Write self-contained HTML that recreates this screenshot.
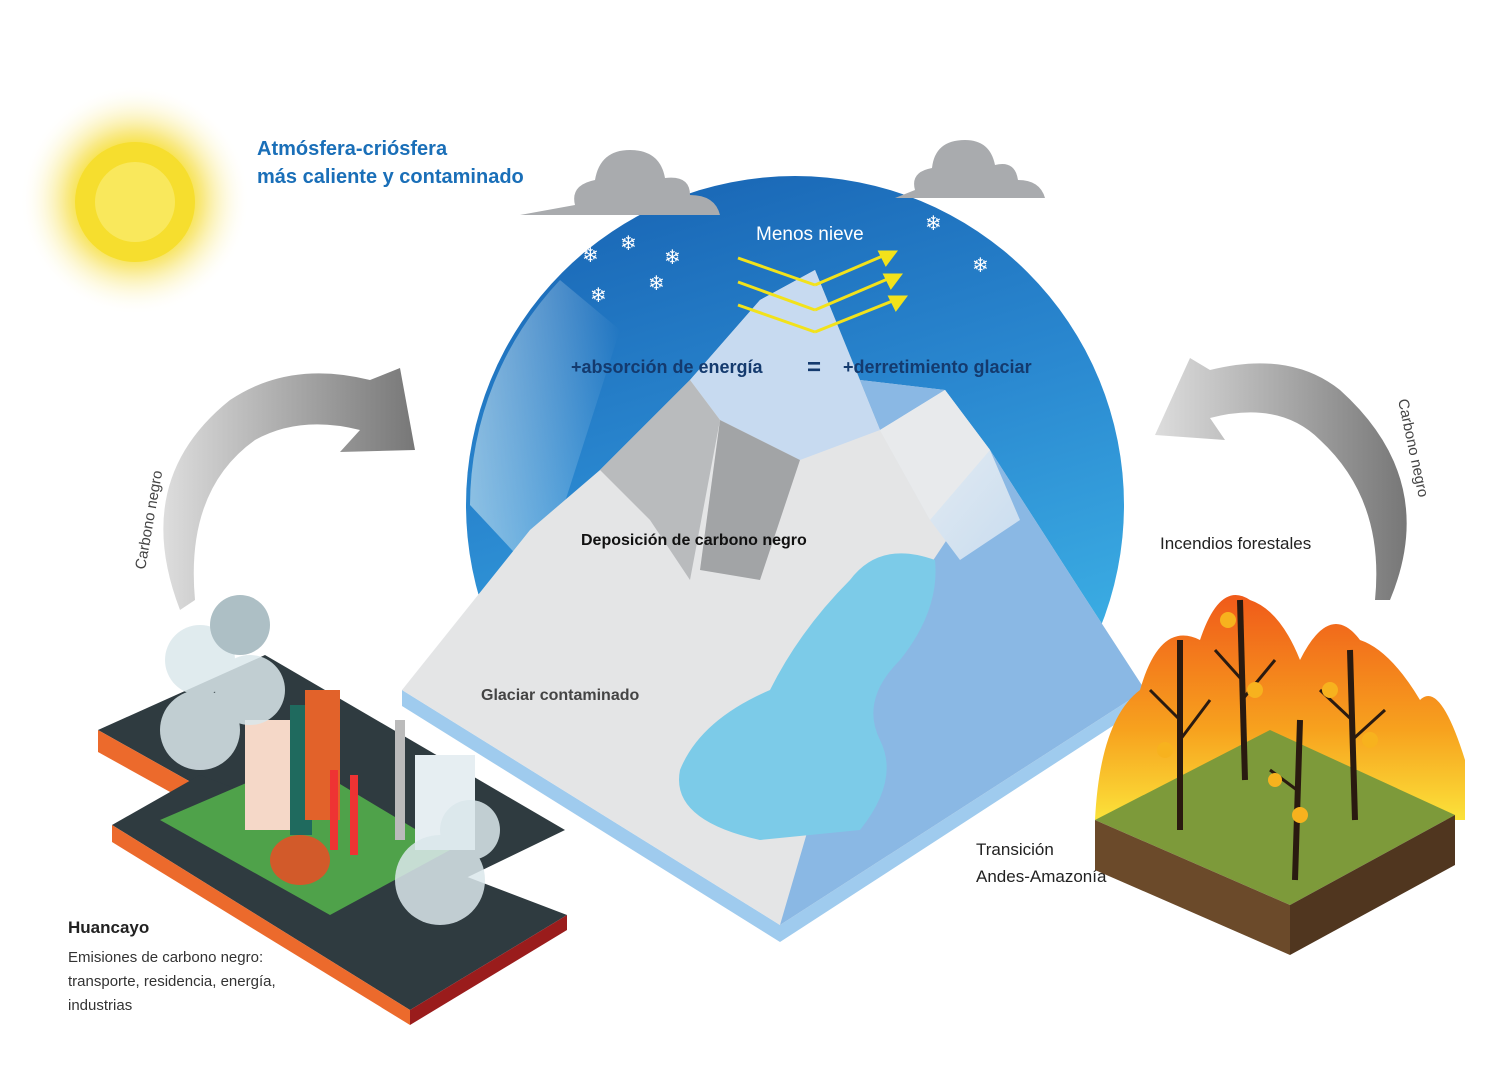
<!DOCTYPE html>
<html><head><meta charset="utf-8"><style>
html,body{margin:0;padding:0;background:#fff}
svg{display:block}
text{font-family:"Liberation Sans",sans-serif}
</style></head><body>
<svg width="1505" height="1088" viewBox="0 0 1505 1088" xmlns="http://www.w3.org/2000/svg">
<defs>
<radialGradient id="sun" cx="0.5" cy="0.5" r="0.5">
<stop offset="0" stop-color="#fffbe0"/><stop offset="0.45" stop-color="#f7e03a"/><stop offset="0.6" stop-color="#f9ea8a"/><stop offset="1" stop-color="#fff" stop-opacity="0"/>
</radialGradient>
<linearGradient id="sky" x1="0" y1="0" x2="0.3" y2="1">
<stop offset="0" stop-color="#1660b0"/><stop offset="0.5" stop-color="#2a88d0"/><stop offset="1" stop-color="#3fb6e8"/>
</linearGradient>
<linearGradient id="glow" x1="0" y1="0" x2="1" y2="0">
<stop offset="0" stop-color="#ddf0f5" stop-opacity="0.55"/><stop offset="1" stop-color="#fff" stop-opacity="0"/>
</linearGradient>
<linearGradient id="arr" x1="0" y1="0" x2="1" y2="0">
<stop offset="0" stop-color="#ddd"/><stop offset="1" stop-color="#777"/>
</linearGradient>
<linearGradient id="fire" x1="0" y1="0" x2="0" y2="1">
<stop offset="0" stop-color="#f05a1a"/><stop offset="0.6" stop-color="#f7a21e"/><stop offset="1" stop-color="#fbe23a"/>
</linearGradient>
<linearGradient id="snowR" x1="0" y1="0" x2="1" y2="1">
<stop offset="0" stop-color="#f0f2f4"/><stop offset="1" stop-color="#c8dcef"/>
</linearGradient>
</defs>
<rect width="1505" height="1088" fill="#fff"/>
<circle cx="135" cy="200" r="115" fill="url(#sun)"/>
<circle cx="135" cy="202" r="60" fill="#f6de2e"/>
<circle cx="135" cy="202" r="40" fill="#fbec70" opacity="0.7"/>
<text x="257" y="155" font-size="20" font-weight="bold" fill="#1a6fb8">Atmósfera-criósfera</text>
<text x="257" y="183" font-size="20" font-weight="bold" fill="#1a6fb8">más caliente y contaminado</text>
<circle cx="795" cy="505" r="329" fill="url(#sky)"/>
<path d="M470 505 A329 329 0 0 1 560 280 L620 330 L540 580 Z" fill="url(#glow)"/>
<path d="M520 215 L720 215 Q715 195 690 195 Q690 175 665 178 Q660 150 630 150 Q600 150 595 180 Q570 185 575 205 Z" fill="#a9abae"/>
<path d="M895 198 L1045 198 Q1040 180 1018 180 Q1015 160 995 165 Q990 140 965 140 Q935 140 932 168 Q910 172 915 190 Z" fill="#a9abae"/>
<polygon points="402,690 780,925 1145,690 1145,705 780,942 402,706" fill="#9fcbee"/>
<polygon points="402,690 530,530 600,470 690,380 760,300 815,270 860,380 945,390 990,450 1080,590 1145,690 780,925" fill="#e4e5e6"/>
<polygon points="815,270 860,380 945,390 990,450 1080,590 1145,690 780,925 840,720 900,610 960,520 880,430" fill="#8ab8e4"/>
<polygon points="945,390 990,450 1020,520 960,560 930,520 880,430" fill="url(#snowR)"/>
<polygon points="690,380 760,300 815,270 880,430 800,460 720,420" fill="#c7daf0"/>
<polygon points="600,470 690,380 720,420 690,580 650,520" fill="#b9bbbd"/>
<polygon points="720,420 800,460 760,580 700,570" fill="#a2a4a6"/>
<polygon points="880,430 945,390 990,450 930,520" fill="#e8eaec"/>
<path d="M935 560 Q880 540 850 580 Q800 630 770 690 Q700 720 680 770 Q670 820 760 840 L860 830 Q900 780 880 740 Q860 700 900 660 Q940 610 935 560 Z" fill="#7ccbe8"/>
<g stroke="#f2e21b" stroke-width="3" fill="#f2e21b">
<line x1="738" y1="258" x2="815" y2="285"/><line x1="815" y1="285" x2="885" y2="255"/>
<line x1="738" y1="282" x2="815" y2="310"/><line x1="815" y1="310" x2="890" y2="278"/>
<line x1="738" y1="305" x2="815" y2="332"/><line x1="815" y1="332" x2="895" y2="300"/>
<polygon points="895,252 880,252 886,264"/><polygon points="900,275 885,275 891,287"/><polygon points="905,297 890,297 896,309"/>
</g>
<g fill="#fff" font-size="20"><text x="582" y="262">❄</text><text x="620" y="250">❄</text><text x="664" y="264">❄</text><text x="590" y="302">❄</text><text x="648" y="290">❄</text><text x="925" y="230">❄</text><text x="972" y="272">❄</text></g>
<text x="756" y="240" font-size="19" fill="#fff">Menos nieve</text>
<text x="571" y="373" font-size="18" font-weight="bold" fill="#143a6e">+absorción de energía</text>
<text x="807" y="375" font-size="24" font-weight="bold" fill="#143a6e">=</text>
<text x="843" y="373" font-size="18" font-weight="bold" fill="#143a6e">+derretimiento glaciar</text>
<text x="581" y="545" font-size="16" font-weight="bold" fill="#111">Deposición de carbono negro</text>
<text x="481" y="700" font-size="16" font-weight="bold" fill="#444">Glaciar contaminado</text>
<path d="M180 610 Q130 480 230 400 Q290 360 370 380 L400 368 L415 450 L340 452 L360 430 Q300 415 255 440 Q185 490 195 600 Z" fill="url(#arr)"/>
<text transform="translate(145,570) rotate(-80)" font-size="15" fill="#444">Carbono negro</text>
<path d="M1390 600 Q1440 480 1340 390 Q1290 350 1210 370 L1190 358 L1155 435 L1225 440 L1210 418 Q1280 400 1320 440 Q1385 500 1375 600 Z" fill="url(#arr)"/>
<text transform="translate(1398,400) rotate(78)" font-size="15" fill="#444">Carbono negro</text>
<text x="1160" y="549" font-size="17" fill="#222">Incendios forestales</text>
<text x="976" y="855" font-size="17" fill="#222">Transición</text>
<text x="976" y="882" font-size="17" fill="#222">Andes-Amazonía</text>
<path d="M1095 820 Q1100 720 1140 690 Q1160 620 1200 640 Q1220 580 1250 600 Q1280 610 1300 660 Q1330 600 1360 640 Q1390 650 1420 700 Q1440 680 1465 760 L1465 820 Z" fill="url(#fire)"/>
<polygon points="1095,820 1270,730 1455,815 1290,905" fill="#7d9a3a"/>
<polygon points="1095,820 1290,905 1290,955 1095,870" fill="#6b4a2a"/>
<polygon points="1290,905 1455,815 1455,865 1290,955" fill="#50361f"/>
<g stroke="#2a1a10" stroke-width="6" fill="none">
<line x1="1180" y1="830" x2="1180" y2="640"/><line x1="1245" y1="780" x2="1240" y2="600"/><line x1="1355" y1="820" x2="1350" y2="650"/><line x1="1295" y1="880" x2="1300" y2="720"/>
</g>
<g stroke="#2a1a10" stroke-width="3">
<line x1="1180" y1="720" x2="1150" y2="690"/><line x1="1180" y1="740" x2="1210" y2="700"/><line x1="1242" y1="680" x2="1215" y2="650"/><line x1="1242" y1="700" x2="1275" y2="660"/><line x1="1352" y1="720" x2="1320" y2="690"/><line x1="1352" y1="740" x2="1385" y2="710"/><line x1="1297" y1="790" x2="1270" y2="770"/>
</g>
<g fill="#f7b21e"><circle cx="1165" cy="750" r="8"/><circle cx="1228" cy="620" r="8"/><circle cx="1255" cy="690" r="8"/><circle cx="1330" cy="690" r="8"/><circle cx="1370" cy="740" r="8"/><circle cx="1300" cy="815" r="8"/><circle cx="1275" cy="780" r="7"/></g>
<polygon points="98,730 265,655 565,830 410,905" fill="#2f3b40"/>
<polygon points="98,730 410,905 410,925 98,752" fill="#ec6a2c"/>
<polygon points="112,825 200,775 567,915 410,1010" fill="#2f3b40"/>
<polygon points="112,825 410,1010 410,1025 112,842" fill="#ec6a2c"/>
<polygon points="410,1010 567,915 567,930 410,1025" fill="#9a1c1c"/>
<polygon points="160,820 300,760 450,850 330,915" fill="#4fa24a"/>
<rect x="245" y="720" width="45" height="110" fill="#f5d8c8"/><rect x="290" y="705" width="22" height="130" fill="#1f6a5e"/><rect x="305" y="690" width="35" height="130" fill="#e2622a"/>
<rect x="415" y="755" width="60" height="95" fill="#e6eef2"/>
<rect x="330" y="770" width="8" height="80" fill="#e33"/><rect x="350" y="775" width="8" height="80" fill="#e33"/>
<rect x="395" y="720" width="10" height="120" fill="#bbb"/>
<ellipse cx="300" cy="860" rx="30" ry="25" fill="#d25a2a"/>
<g fill="#dbe8ec" opacity="0.85"><circle cx="200" cy="730" r="40"/><circle cx="250" cy="690" r="35"/><circle cx="200" cy="660" r="35"/><circle cx="240" cy="625" r="30" fill="#9fb4bb"/><circle cx="440" cy="880" r="45"/><circle cx="470" cy="830" r="30"/></g>
<text x="68" y="933" font-size="17" font-weight="bold" fill="#222">Huancayo</text>
<text x="68" y="962" font-size="15" fill="#333">Emisiones de carbono negro:</text>
<text x="68" y="986" font-size="15" fill="#333">transporte, residencia, energía,</text>
<text x="68" y="1010" font-size="15" fill="#333">industrias</text>
</svg>
</body></html>
